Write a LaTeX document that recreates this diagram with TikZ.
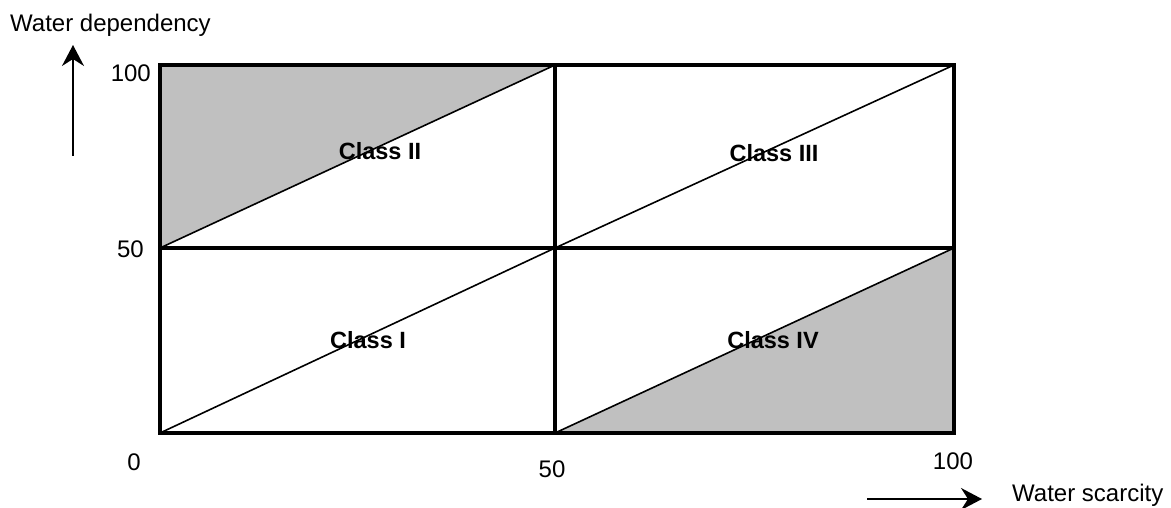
\documentclass[tikz,border=0pt]{standalone}
\usepackage{fontspec}
\setmainfont{Liberation Sans}
\usetikzlibrary{arrows.meta}
\definecolor{shade}{HTML}{C0C0C0}
\begin{document}
\begin{tikzpicture}[x=1pt,y=-1pt,
  grid/.style={line width=3.2pt, line cap=rect},
  diag/.style={line width=1.6pt},
  shadefill/.style={fill=shade, draw=none},
  lbl/.style={inner sep=0pt, font=\fontsize{24}{28}\selectfont},
  cls/.style={inner sep=0pt, font=\fontsize{23.5}{28}\selectfont\bfseries},
  axarrow/.style={line width=1.9pt, -{Stealth[length=21pt,width=22pt,inset=7pt]}}]
\useasboundingbox (0,0) rectangle (1171,508);
% corners
\coordinate (TL) at (160,65);
\coordinate (TM) at (555,65);
\coordinate (TR) at (954,65);
\coordinate (ML) at (160,248);
\coordinate (MM) at (555,248);
\coordinate (MR) at (954,248);
\coordinate (BL) at (160,433);
\coordinate (BM) at (555,433);
\coordinate (BR) at (954,433);
% shaded triangles
\fill[shadefill] (TL) -- (TM) -- (ML) -- cycle;
\fill[shadefill] (BM) -- (BR) -- (MR) -- cycle;
% diagonals
\draw[diag] (ML) -- (TM);
\draw[diag] (BL) -- (MM);
\draw[diag] (MM) -- (TR);
\draw[diag] (BM) -- (MR);
% grid
\draw[grid] (TL) rectangle (BR);
\draw[grid] (TM) -- (BM);
\draw[grid] (ML) -- (MR);
% class labels
\node[cls] (c2) at (380,151) {Class II};
\node[cls] (c3) at (774,153) {Class III};
\node[cls] (c1) at (368,340) {Class I};
\node[cls] (c4) at (773,340) {Class IV};
% tick labels
\node[lbl, anchor=east] (y100) at (151,73) {100};
\node[lbl, anchor=east] (y50) at (144,249) {50};
\node[lbl] (x0) at (134,462) {0};
\node[lbl] (x50) at (552,469) {50};
\node[lbl] (x100) at (953,461) {100};
% axis titles and arrows
\node[lbl, anchor=base west] (ytitle) at (10,32) {Water dependency};
\node[lbl, anchor=base west] (xtitle) at (1012,501) {Water scarcity};
\coordinate (ya0) at (73,156);
\coordinate (ya1) at (73,45);
\coordinate (xa0) at (867,499);
\coordinate (xa1) at (982,499);
\draw[axarrow] (ya0) -- (ya1);
\draw[axarrow] (xa0) -- (xa1);
\end{tikzpicture}
\end{document}
